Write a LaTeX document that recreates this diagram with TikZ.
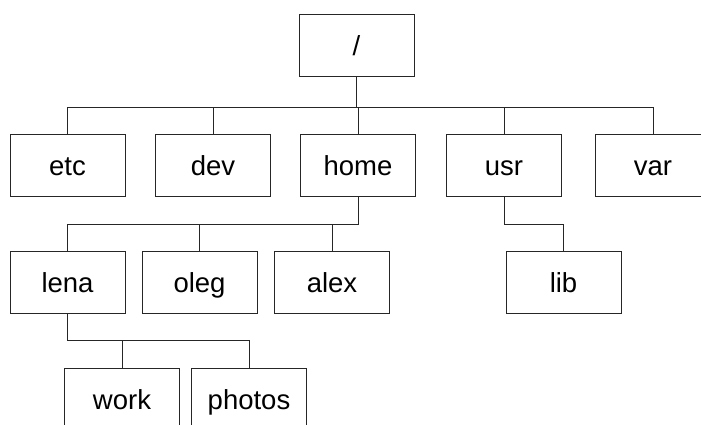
\documentclass[tikz,border=0pt]{standalone}
\usepackage{fontspec}
\setmainfont{Liberation Sans}
\usetikzlibrary{positioning}
\definecolor{figdark}{gray}{0.15}
\tikzset{
  dirbox/.style={
    rectangle, draw=figdark, fill=white, line width=0.9pt,
    minimum width=115pt, minimum height=62pt, inner sep=0pt,
    text height=24pt, text depth=4pt,
    text centered, font=\fontsize{27.5}{32}\selectfont
  },
  link/.style={line width=0.9pt, draw=figdark}
}
\begin{document}
\begin{tikzpicture}[x=1pt,y=-1pt]
  \clip (0,0) rectangle (701,424);

  % Root
  \node[dirbox] (root) at (356.5,45) {/};

  % First level
  \node[dirbox] (etc)  at (67.5,165.5) {etc};
  \node[dirbox] (dev)  at (213,165.5)  {dev};
  \node[dirbox] (home) at (358,165.5)  {home};
  \node[dirbox] (usr)  at (504,165.5)  {usr};
  \node[dirbox] (var)  at (653,165.5)  {var};

  % Second level
  \node[dirbox] (lena) at (67.5,282)  {lena};
  \node[dirbox] (oleg) at (199.5,282) {oleg};
  \node[dirbox] (alex) at (332,282)   {alex};
  \node[dirbox] (lib)  at (563.5,282) {lib};

  % Third level
  \node[dirbox] (work)   at (122,399) {work};
  \node[dirbox] (photos) at (249,399) {photos};

  % Bus lines
  \coordinate (busroot) at (0,107);
  \coordinate (bushome) at (0,224);
  \coordinate (buslena) at (0,340);

  % Root connections
  \draw[link] (root.south) -- (root.south |- busroot);
  \draw[link] (etc.north) -- (etc.north |- busroot) -| (var.north);
  \draw[link] (dev.north) -- (dev.north |- busroot);
  \draw[link] (home.north) -- (home.north |- busroot);
  \draw[link] (usr.north) -- (usr.north |- busroot);

  % Home connections
  \draw[link] (home.south) -- (home.south |- bushome) -| (lena.north);
  \draw[link] (oleg.north) -- (oleg.north |- bushome);
  \draw[link] (alex.north) -- (alex.north |- bushome);

  % Usr connection
  \draw[link] (usr.south) -- (usr.south |- bushome) -| (lib.north);

  % Lena connections
  \draw[link] (lena.south) -- (lena.south |- buslena) -| (photos.north);
  \draw[link] (work.north) -- (work.north |- buslena);

\end{tikzpicture}
\end{document}
